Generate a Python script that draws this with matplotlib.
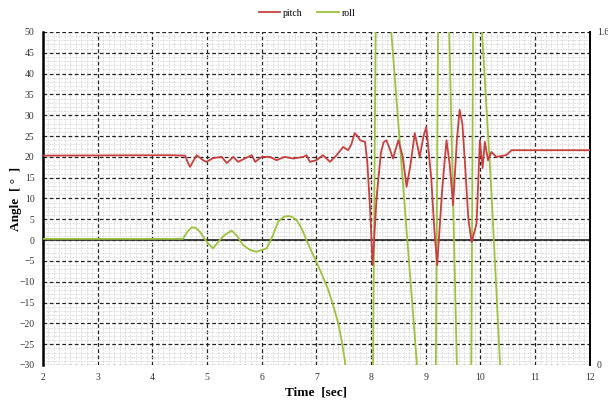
import matplotlib.pyplot as plt
from matplotlib.ticker import MultipleLocator

plt.rcParams['font.family'] = ['Liberation Serif', 'DejaVu Serif']

# pitch angle [deg] vs time [sec]
pitch_t = [2.0, 4.32, 4.6, 4.65, 4.69, 4.74, 4.81, 4.93, 4.99, 5.11, 5.27, 5.36, 5.48, 5.57, 5.69,
           5.82, 5.88, 6.0, 6.15, 6.27, 6.42, 6.58, 6.76, 6.82, 6.88, 7.0, 7.12, 7.25,
           7.37, 7.49, 7.58, 7.64, 7.7, 7.75, 7.8, 7.89, 7.93, 7.98, 8.03, 8.1, 8.18, 8.23,
           8.28, 8.34, 8.4, 8.5, 8.58, 8.65, 8.72, 8.8, 8.89, 8.96, 9.01, 9.1, 9.16, 9.21,
           9.3, 9.38, 9.44, 9.5, 9.57, 9.62, 9.67, 9.72, 9.78, 9.84, 9.93,
           9.99, 10.04, 10.08, 10.14, 10.2, 10.29, 10.47, 10.57, 10.9, 12.0]
pitch_v = [20.3, 20.4, 20.3, 18.6, 17.6, 18.8, 20.4, 19.2, 18.8, 19.7, 20.0, 18.5, 20.0, 18.8, 19.6,
           20.4, 18.8, 20.0, 20.0, 19.2, 20.0, 19.6, 20.0, 20.4, 18.8, 19.2, 20.4, 18.8,
           20.4, 22.4, 21.6, 23.0, 25.7, 25.0, 24.0, 23.6, 19.0, 8.0, -6.0, 10.0, 21.0, 23.5,
           24.0, 22.0, 19.6, 24.0, 20.0, 12.8, 18.0, 25.7, 20.0, 25.0, 27.2, 15.0, 2.0, -6.0,
           12.0, 24.0, 18.0, 8.4, 24.0, 31.3, 28.0, 18.0, 5.0, -0.5, 4.0,
           24.0, 17.3, 23.6, 19.2, 21.2, 20.0, 20.4, 21.6, 21.6, 21.6]

# roll angle [deg] vs time [sec] (runs far out of the plotted range)
roll_t = [2.0, 4.56, 4.64, 4.72, 4.8, 4.87, 5.0, 5.11, 5.2, 5.3, 5.45, 5.55, 5.66, 5.78,
          5.9, 6.09, 6.2, 6.3, 6.4, 6.49, 6.57, 6.64, 6.73, 6.82, 6.9, 7.0, 7.1, 7.22, 7.31,
          7.4, 7.46, 7.52, 7.6, 8.03, 8.09, 8.3, 8.37, 8.84,
          8.9, 9.18, 9.23, 9.4, 9.43, 9.57, 9.6, 9.83, 9.87, 10.0, 10.03, 10.2, 10.36, 10.45]
roll_v = [0.3, 0.3, 2.0, 3.1, 2.9, 2.0, -0.5, -2.0, -0.5, 1.0, 2.3, 1.0, -1.2, -2.3,
          -2.8, -2.0, 1.0, 4.4, 5.6, 5.8, 5.5, 4.8, 2.8, 0.0, -2.4, -5.2, -8.2, -12.0, -15.8,
          -20.0, -24.0, -28.8, -40.0, -40.0, 60.0, 60.0, 50.0, -30.0,
          -40.0, -40.0, 60.0, 60.0, 50.0, -30.0, -40.0, -40.0, 60.0, 60.0, 50.0, 12.0, -30.0, -40.0]

fig = plt.figure(figsize=(6.08, 4.01), dpi=100)
ax = fig.add_axes([0.0707, 0.0898, 0.8993, 0.8304])

ax.plot(pitch_t, pitch_v, color='#c8403f', lw=1.3, label='pitch', zorder=4)
ax.plot(roll_t, roll_v, color='#9cc23e', lw=1.3, label='roll', zorder=3)
ax.axhline(0, color='#333333', lw=1.3, zorder=2)

ax.set_xlim(2, 12)
ax.set_ylim(-30, 50)
ax.xaxis.set_major_locator(MultipleLocator(1))
ax.xaxis.set_minor_locator(MultipleLocator(0.1))
ax.yaxis.set_major_locator(MultipleLocator(5))
ax.yaxis.set_minor_locator(MultipleLocator(1))
ax.grid(which='minor', color='#d6d6d6', lw=0.6, linestyle=(0, (2, 1.5)))
ax.grid(which='major', color='#222222', lw=0.9, linestyle=(0, (3, 2)))
ax.set_axisbelow(True)
ax.tick_params(which='both', length=0, labelsize=7, colors='#333333')
ax.tick_params(axis='x', pad=6)
ax.tick_params(axis='y', pad=6)

ax.spines['top'].set_visible(False)
ax.spines['bottom'].set_visible(False)
ax.spines['left'].set_linewidth(1.8)
ax.spines['right'].set_linewidth(1.4)

ax.set_xlabel('Time  [sec]', fontsize=9.5, fontweight='bold', labelpad=3)
ax.set_ylabel('Angle  [ °  ]', fontsize=9.5, fontweight='bold', labelpad=-2)

ax2 = ax.twinx()
ax2.set_ylim(0, 1.6)
ax2.set_yticks([0, 1.6])
ax2.set_yticklabels(['0', '1.6'])
ax2.tick_params(length=0, labelsize=7, colors='#333333', pad=5)
for s in ax2.spines.values():
    s.set_visible(False)

fig.legend(loc='upper center', bbox_to_anchor=(0.505, 1.0), ncol=2, frameon=False,
           fontsize=7, handlelength=2.2, columnspacing=1.5, handletextpad=0.3)

fig.savefig('out.png', dpi=100)
